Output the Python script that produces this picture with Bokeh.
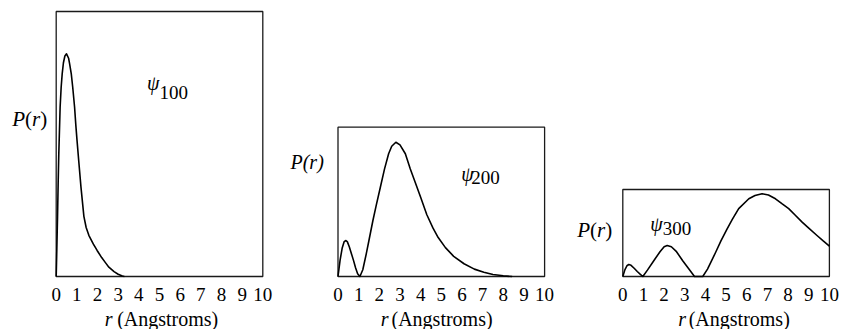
from bokeh.plotting import figure
from bokeh.layouts import row
from bokeh.models import Range1d
from bokeh.core.properties import value
from bokeh.embed import file_html
from bokeh.resources import INLINE

# ---- data (P normalised to the tallest peak of each panel) ----
r_100 = [0, 0.03, 0.065, 0.095, 0.125, 0.15, 0.19, 0.24, 0.29, 0.35, 0.42, 0.5,
         0.6, 0.65, 0.73, 0.8, 0.89, 0.95, 1.0, 1.09, 1.2, 1.34, 1.45, 1.58, 1.8,
         1.98, 2.2, 2.4, 2.55, 2.8, 3.0, 3.2, 3.3]
p_100 = [0, 0.12, 0.27, 0.42, 0.55, 0.63, 0.76, 0.85, 0.91, 0.96, 0.99, 1.0,
         0.98, 0.955, 0.91, 0.85, 0.76, 0.68, 0.62, 0.52, 0.40, 0.27, 0.22, 0.185, 0.145,
         0.117, 0.085, 0.06, 0.042, 0.022, 0.01, 0.002, 0]

r_200 = [0, 0.1, 0.2, 0.3, 0.37, 0.45, 0.55, 0.65, 0.75, 0.85, 0.95, 1.06, 1.2, 1.37,
         1.5, 1.69, 1.85, 2.05, 2.25, 2.45, 2.6, 2.8, 3.0, 3.26, 3.5, 3.74, 4.0, 4.3,
         4.6, 4.85, 5.2, 5.6, 6.1, 6.6, 7.06, 7.5, 8.0, 8.43]
p_200 = [0, 0.12, 0.21, 0.26, 0.268, 0.26, 0.22, 0.17, 0.12, 0.065, 0.02, 0, 0.05, 0.17,
         0.27, 0.417, 0.53, 0.665, 0.80, 0.914, 0.97, 1.0, 0.98, 0.914, 0.80, 0.70, 0.59, 0.46,
         0.36, 0.29, 0.215, 0.15, 0.095, 0.055, 0.032, 0.015, 0.005, 0]

r_300 = [0, 0.1, 0.2, 0.29, 0.4, 0.55, 0.7, 0.85, 0.97, 1.2, 1.5, 1.8, 2.0, 2.15, 2.35,
         2.6, 2.9, 3.2, 3.47, 3.87, 4.1, 4.49, 4.75, 5.05, 5.3, 5.61, 6.1, 6.4, 6.74,
         7.05, 7.39, 7.7, 8.03, 8.35, 8.68, 9.0, 9.4, 9.7, 10.0]
p_300 = [0, 0.08, 0.13, 0.145, 0.135, 0.1, 0.06, 0.025, 0, 0.08, 0.19, 0.30, 0.36, 0.375, 0.36,
         0.30, 0.19, 0.09, 0, 0, 0.09, 0.29, 0.43, 0.577, 0.69, 0.82, 0.94, 0.98, 1.0,
         0.985, 0.94, 0.88, 0.82, 0.74, 0.657, 0.585, 0.496, 0.43, 0.367]

tick_values = [0, 1, 2, 3, 4, 5, 6, 7, 8, 9, 10]
tick_labels = [str(t) for t in tick_values]
x_label_main = "r"
x_label_rest = "(Angstroms)"
y_label = "P(r)"
psi_names = ["100", "200", "300"]

SERIF = "Liberation Serif"
FIG_H = 329
BOX_W = 206.6       # px width of each plot box
BOX_BOTTOM = 276    # px from figure top


def panel(width, box_left, box_top, ymax):
    ppx = BOX_W / (tick_values[-1] - tick_values[0])
    x0 = tick_values[0] - box_left / ppx
    x1 = x0 + width / ppx
    ppy = (BOX_BOTTOM - box_top) / ymax
    y0 = -(FIG_H - BOX_BOTTOM) / ppy
    y1 = ymax + box_top / ppy
    p = figure(width=width, height=FIG_H, output_backend="svg", toolbar_location=None,
               x_range=Range1d(x0, x1), y_range=Range1d(y0, y1),
               x_axis_location=None, y_axis_location=None,
               min_border=0, min_border_left=0, min_border_right=0,
               min_border_top=0, min_border_bottom=0)
    p.grid.visible = False
    p.outline_line_color = None
    p.background_fill_color = "white"
    p.border_fill_color = "white"
    # plot box
    p.quad(left=[tick_values[0]], right=[tick_values[-1]], bottom=[0], top=[ymax],
           fill_color=None, line_color="#1a1a1a", line_width=1.3)
    # tick labels
    p.text(x=tick_values, y=[0] * len(tick_values), text=tick_labels,
           text_font=value(SERIF), text_font_size="19px", text_color="black",
           text_align="center", text_baseline="middle", y_offset=18)
    return p


def txt(p, x, y, s, size, style="normal", baseline="middle", xo=0, yo=0):
    p.text(x=[x], y=[y], text=[s], text_font=value(SERIF), text_font_size=size,
           text_font_style=style, text_color="black", text_align="left",
           text_baseline=baseline, x_offset=xo, y_offset=yo)


p1 = panel(276, 55.7, 11, 1.19)
p2 = panel(280, 61.5, 126.7, 1.112)
p3 = panel(285, 66.3, 189, 1.052)

for p, r, pv in [(p1, r_100, p_100), (p2, r_200, p_200), (p3, r_300, p_300)]:
    p.line(r, pv, line_color="black", line_width=1.6, line_join="round")

# x axis titles: italic r + upright (Angstroms)
for p, xr, xp in [(p1, 2.35, 2.95), (p2, 2.07, 2.59), (p3, 2.68, 3.19)]:
    txt(p, xr, 0, x_label_main, "20px", "italic", yo=42)
    txt(p, xp, 0, x_label_rest, "20px", "normal", yo=42)

# P(r) labels (panels 1 and 3 mixed italics, panel 2 italic)
for p, x, y in [(p1, -2.13, 0.709), (p3, -2.21, 0.568)]:
    txt(p, x, y, "P", "21px", "italic", xo=0)
    txt(p, x, y, "(", "21px", "normal", xo=12.8)
    txt(p, x, y, "r", "21px", "italic", xo=19.8)
    txt(p, x, y, ")", "21px", "normal", xo=28.0)
txt(p2, -2.30, 0.854, y_label, "20px", "italic")

# psi labels
for p, xs, ys, xn, yn, name in [(p1, 4.40, 0.867, 5.0, 0.828, psi_names[0]),
                                (p2, 5.96, 0.767, 6.45, 0.739, psi_names[1]),
                                (p3, 1.33, 0.629, 1.93, 0.577, psi_names[2])]:
    txt(p, xs, ys, "\u03c8", "20px", "italic", baseline="alphabetic")
    txt(p, xn, yn, name, "19px", "normal", baseline="alphabetic")

layout = row(p1, p2, p3)
open("out.html", "w").write(file_html(layout, INLINE))
